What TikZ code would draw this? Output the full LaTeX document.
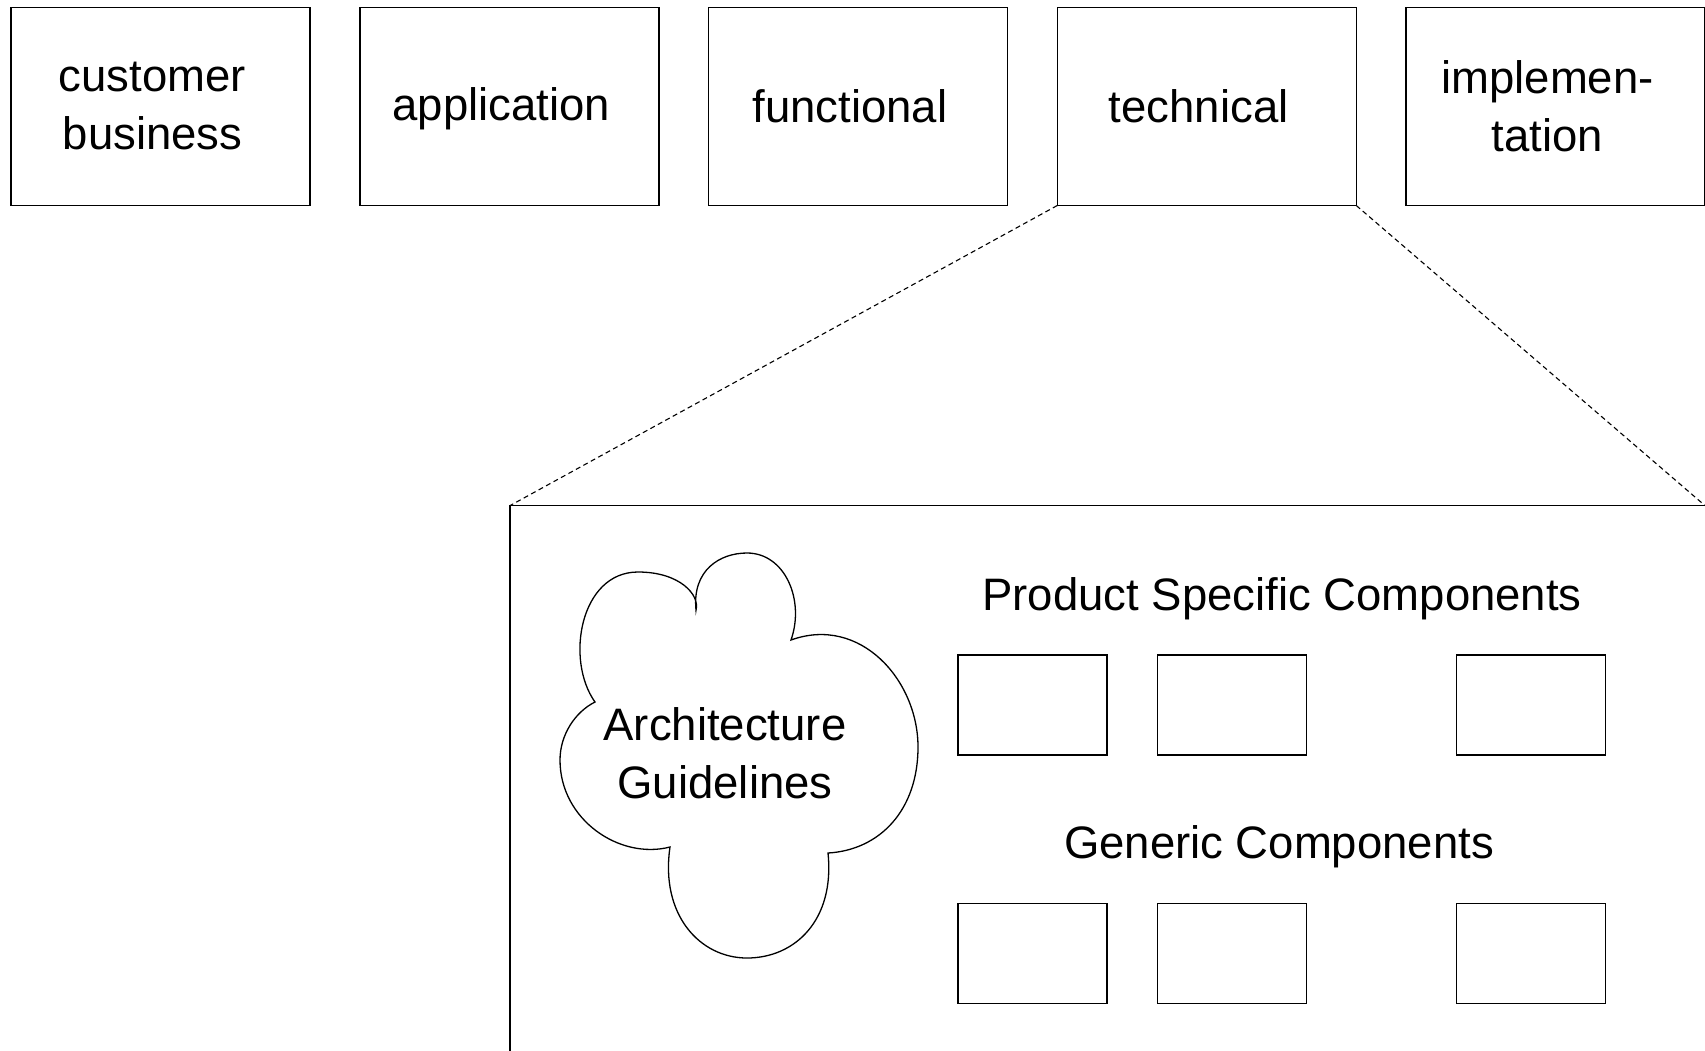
\documentclass[tikz,border=0pt]{standalone}
\usepackage{fontspec}
\setmainfont{Liberation Sans}
\begin{document}
\begin{tikzpicture}[x=1pt,y=-1pt,
  every node/.style={font=\fontsize{45.5}{58}\selectfont},
  viewbox/.style={draw,line width=1.5pt,minimum width=299pt,minimum height=198pt,
    inner sep=0pt,outer sep=0pt},
  viewtext/.style={align=center,inner sep=0pt,xshift=-8pt},
  compbox/.style={draw,line width=1.5pt,minimum width=149pt,minimum height=100pt,
    inner sep=0pt,outer sep=0pt},
  zoomline/.style={line width=1.1pt,dash pattern=on 5pt off 3.5pt},
  frameline/.style={line width=1.5pt},
  cloudline/.style={line width=1.3pt,fill=white},
  heading/.style={inner sep=0pt}]
\clip (0,0) rectangle (1705,1050);
\fill[white] (0,0) rectangle (1705,1050);

% the five views
\node[viewbox] (customer) at (160.5,106.5) {};
\node[viewbox] (application) at (509.25,106.5) {};
\node[viewbox] (functional) at (858,106.5) {};
\node[viewbox] (technical) at (1206.75,106.5) {};
\node[viewbox] (implementation) at (1555.5,106.5) {};
\node[viewtext] (customerlbl) at (customer.center) {customer\\business};
\node[viewtext,yshift=-2pt] (applicationlbl) at (application.center) {application};
\node[viewtext] (functionallbl) at (functional.center) {functional};
\node[viewtext] (technicallbl) at (technical.center) {technical};
\node[viewtext] (implementationlbl) at (implementation.center) {implemen-\\tation};

% zoomed-in frame of the technical view
\coordinate (zoomTL) at (510,505.6);
\coordinate (zoomTR) at (1705,505.6);
\coordinate (zoomBL) at (510,1060);
\draw[frameline] (zoomTR) -- (zoomTL) -- (zoomBL);
\draw[zoomline] (technical.south west) -- (zoomTL);
\draw[zoomline] (technical.south east) -- (zoomTR);

% architecture guidelines cloud
\draw[cloudline]
  (595,702) .. controls (565,660) and (580,572) .. (638,572)
  .. controls (680,572) and (700,595) .. (696,610)
  .. controls (692,570) and (720,553) .. (747,553)
  .. controls (785,553) and (805,600) .. (791,640)
  .. controls (860,615) and (918,680) .. (918,747)
  .. controls (918,810) and (880,850) .. (828,853)
  .. controls (835,920) and (795,958) .. (747,958)
  .. controls (700,958) and (660,915) .. (670,847)
  .. controls (620,860) and (560,820) .. (560,760)
  .. controls (560,735) and (575,712) .. (595,702) -- cycle;
\node[align=center,inner sep=0pt] (guidelines) at (725,753) {Architecture\\Guidelines};

% component groups
\node[heading] (specific) at (1282,598.5) {Product Specific Components};
\node[compbox] (ps1) at (1032.5,705) {};
\node[compbox] (ps2) at (1232,705) {};
\node[compbox] (ps3) at (1531,705) {};

\node[heading] (generic) at (1279,846.5) {Generic Components};
\node[compbox] (gc1) at (1032.5,953.5) {};
\node[compbox] (gc2) at (1232,953.5) {};
\node[compbox] (gc3) at (1531,953.5) {};
\end{tikzpicture}
\end{document}
